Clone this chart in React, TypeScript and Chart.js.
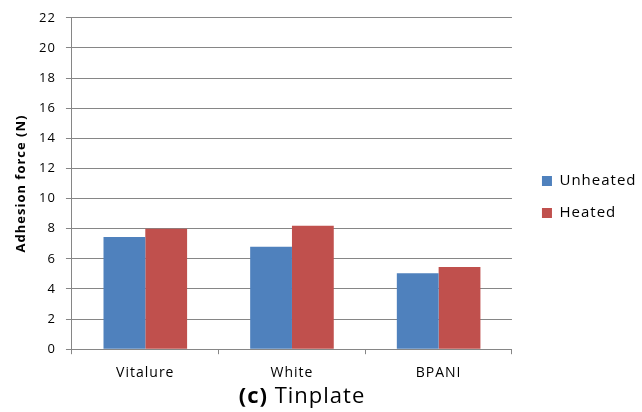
import React, { useEffect, useRef } from "react";
import { Chart, registerables } from "chart.js";

Chart.register(...registerables);

const categories = ["Vitalure", "White", "BPANI"];
const unheated = [7.45, 6.8, 5.05];
const heated = [8.0, 8.2, 5.45];
const seriesNames = ["Unheated", "Heated"];
const yMax = 22;
const yStep = 2;

const FONT = "'Open Sans', sans-serif";

const spacingPlugin = {
  id: "letterSpacing",
  beforeLayout(chart: any) {
    chart.ctx.letterSpacing = "1px";
  },
  beforeDraw(chart: any) {
    chart.ctx.letterSpacing = "1px";
  },
};

const titlePlugin = {
  id: "bottomTitle",
  afterDraw(chart: any) {
    const ctx = chart.ctx;
    const cx = 302;
    const y = 397;
    ctx.save();
    ctx.fillStyle = "#000";
    ctx.textBaseline = "middle";
    ctx.font = `bold 22px ${FONT}`;
    const a = "(c)";
    const b = " Tinplate";
    const wa = ctx.measureText(a).width;
    ctx.font = `22px ${FONT}`;
    const wb = ctx.measureText(b).width;
    const x0 = cx - (wa + wb) / 2;
    ctx.textAlign = "left";
    ctx.font = `bold 22px ${FONT}`;
    ctx.fillText(a, x0, y);
    ctx.font = `22px ${FONT}`;
    ctx.fillText(b, x0 + wa, y);
    ctx.restore();
  },
};

const legendShift = {
  id: "legendShift",
  afterLayout(chart: any) {
    const l = chart.legend;
    if (l) {
      l.left += 13;
      l.right += 13;
      l.top -= 1;
      l.bottom -= 1;
    }
  },
};

export default function App() {
  const ref = useRef<HTMLCanvasElement>(null);
  useEffect(() => {
    document.body.style.margin = "0";
    const chart = new Chart(ref.current!, {
      type: "bar",
      data: {
        labels: categories,
        datasets: [
          { label: seriesNames[0], data: unheated, backgroundColor: "#4F81BD" },
          { label: seriesNames[1], data: heated, backgroundColor: "#C0504D" },
        ],
      },
      options: {
        animation: false,
        responsive: false,
        maintainAspectRatio: false,
        layout: { padding: { top: 5, bottom: 21, left: 2, right: 8.5 } },
        datasets: { bar: { categoryPercentage: 0.57, barPercentage: 1 } },
        plugins: {
          legend: {
            position: "right",
            labels: {
              boxWidth: 10,
              boxHeight: 10,
              padding: 17,
              color: "#000",
              font: { family: FONT, size: 15 },
            },
          },
          title: { display: false },
          tooltip: { enabled: false },
        },
        scales: {
          x: {
            grid: {
              offset: true,
              drawOnChartArea: false,
              drawTicks: true,
              tickLength: 5,
              color: "#868686",
            },
            border: { color: "#868686" },
            ticks: { color: "#000", font: { family: FONT, size: 14 }, padding: 10 },
          },
          y: {
            min: 0,
            max: yMax,
            ticks: {
              stepSize: yStep,
              color: "#000",
              font: { family: FONT, size: 13 },
              padding: 10,
            },
            grid: { color: "#868686", tickLength: 6 },
            border: { color: "#868686" },
            title: {
              display: true,
              text: "Adhesion force (N)",
              color: "#000",
              font: { family: FONT, size: 13, weight: "bold" },
              padding: { top: 11.5, bottom: 0 },
            },
          },
        },
      },
      plugins: [spacingPlugin, titlePlugin, legendShift],
    });
    return () => chart.destroy();
  }, []);
  return <canvas ref={ref} width={642} height={412} style={{ display: "block" }} />;
}
